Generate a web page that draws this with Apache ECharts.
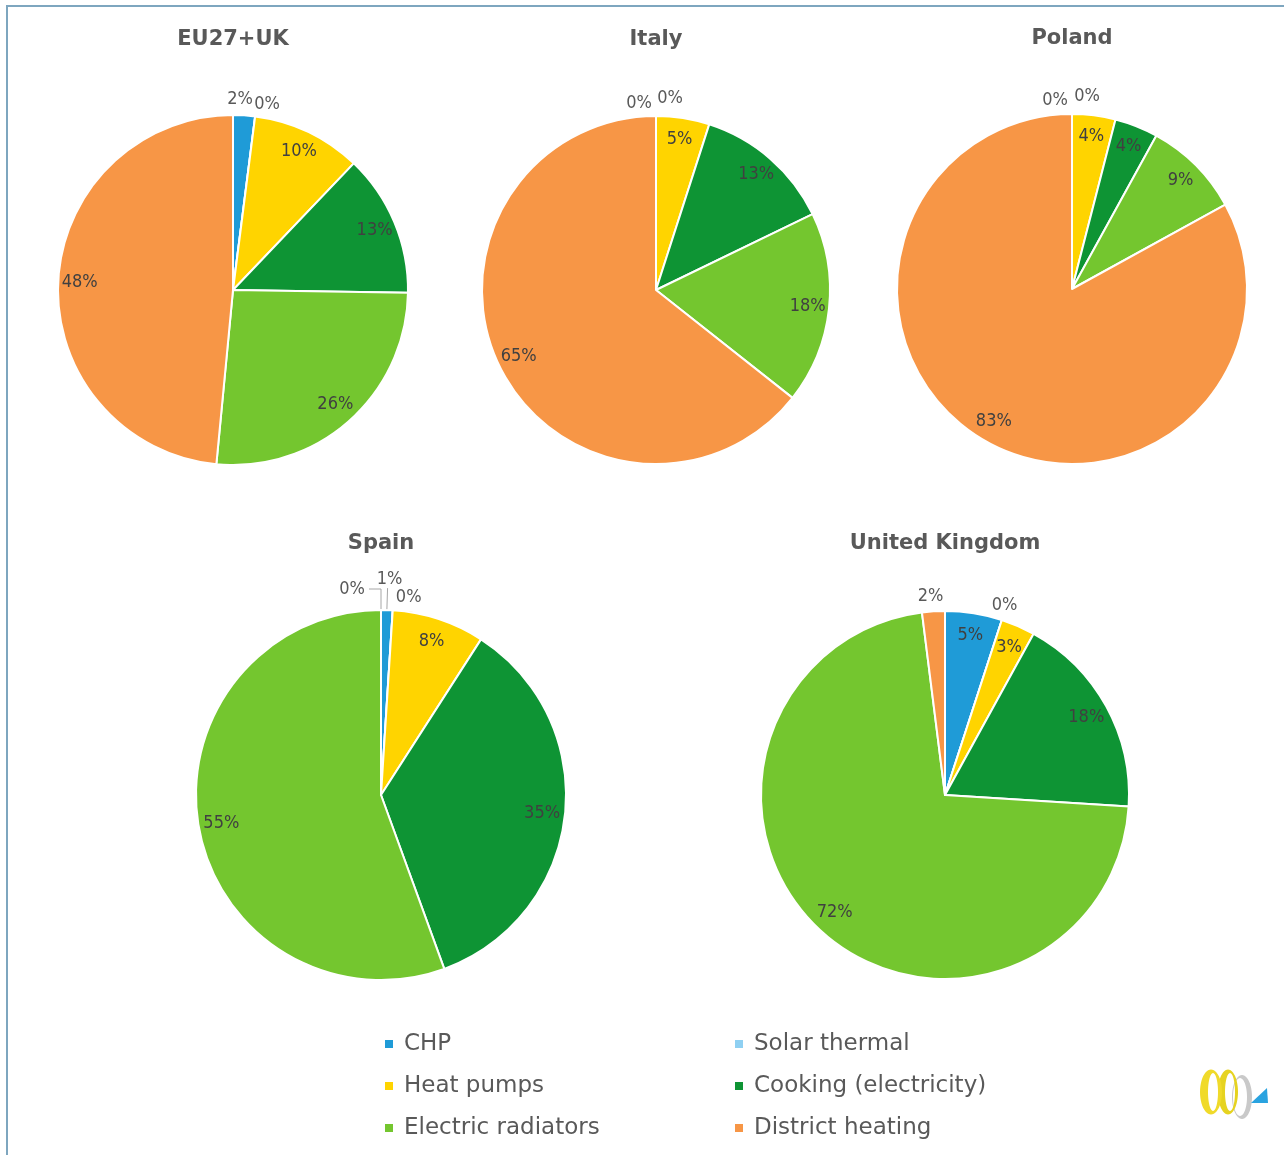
<!DOCTYPE html>
<html>
<head>
<meta charset="utf-8">
<script src="https://cdn.jsdelivr.net/npm/echarts@6/dist/echarts.min.js"></script>
<style>
  html, body { margin: 0; padding: 0; background: #ffffff; }
  #chart { width: 1284px; height: 1155px; }
</style>
</head>
<body>
<div id="chart"></div>
<script>
// Electricity end-use shares (%) per region, clockwise from 12 o'clock
const categories = ['CHP', 'Solar thermal', 'Heat pumps', 'Cooking (electricity)', 'Electric radiators', 'District heating'];
const regions = ['EU27+UK', 'Italy', 'Poland', 'Spain', 'United Kingdom'];
const euUk = [2, 0, 10, 13, 26, 48];
const italy = [0, 0, 5, 13, 18, 65];
const poland = [0, 0, 4, 4, 9, 83];
const spain = [1, 0, 8, 35, 55, 0];
const unitedKingdom = [5, 0, 3, 18, 72, 2];
const regionValues = [euUk, italy, poland, spain, unitedKingdom];

const palette = ['#1f9bd7', '#8fd0f2', '#ffd400', '#0e9434', '#74c62f', '#f79646'];

// Pie placement (px)
const pieLayout = [
  { center: [233, 290], r: 175, titleY: 29 },
  { center: [656, 290], r: 174, titleY: 29 },
  { center: [1072, 289], r: 175, titleY: 28 },
  { center: [381, 795], r: 185, titleY: 533 },
  { center: [945, 795], r: 184, titleY: 533 }
];

// Small slices get their label just outside the rim; nudges keep neighbours apart
const outerNudge = [
  { 0: [-5, -1], 1: [10, 3] },
  { 0: [-17, 2], 1: [14, -3] },
  { 0: [-17, 1], 1: [15, -3] },
  { 1: [15, 2] },
  { 5: [-2, 0], 1: [-2, 0] }
];
// Labels attached with a leader line (Spain)
const leaders = [
  {}, {}, {},
  { 0: { len: 22, len2: 0, gap: 2, above: true }, 5: { len: 21, len2: 12, gap: 4 } },
  {}
];

const FONT = '"DejaVu Sans Condensed", "DejaVu Sans", sans-serif';
const TEXT_GREY = '#595959';

function mainSeries(k) {
  const lay = pieLayout[k];
  const lead = leaders[k];
  return {
    type: 'pie',
    name: regions[k],
    center: lay.center,
    radius: lay.r,
    startAngle: 90,
    clockwise: true,
    avoidLabelOverlap: false,
    animation: false,
    itemStyle: { borderColor: '#ffffff', borderWidth: 2 },
    label: { show: false },
    labelLine: { show: false },
    emphasis: { disabled: true },
    data: regionValues[k].map((v, i) => {
      const item = { name: categories[i], value: v, itemStyle: { color: palette[i] } };
      const l = lead[i];
      if (l) {
        item.label = {
          show: true, position: 'outside', formatter: '{c}%',
          distanceToLabelLine: l.gap, fontFamily: FONT, fontSize: 18, color: TEXT_GREY
        };
        item.labelLine = {
          show: true, length: l.len, length2: l.len2, minTurnAngle: 0,
          lineStyle: { color: '#a6a6a6', width: 1 }
        };
      }
      return item;
    }),
    labelLayout: p => {
      const l = lead[p.dataIndex];
      return l && l.above ? { align: 'center', verticalAlign: 'bottom' } : {};
    }
  };
}

function labelRing(k, inner) {
  const lay = pieLayout[k];
  const r = lay.r;
  const nudge = outerNudge[k];
  return {
    type: 'pie',
    name: regions[k] + (inner ? ' labels' : ' rim labels'),
    center: lay.center,
    radius: inner ? [r * 0.72, r] : [r, r + 24],
    startAngle: 90,
    clockwise: true,
    silent: true,
    legendHoverLink: false,
    avoidLabelOverlap: false,
    animation: false,
    z: 3,
    itemStyle: { color: 'rgba(0,0,0,0)', borderWidth: 0 },
    label: {
      position: 'inside', rotate: 0, formatter: '{c}%',
      fontFamily: FONT, fontSize: 18, color: inner ? '#404040' : TEXT_GREY
    },
    labelLine: { show: false },
    emphasis: { disabled: true },
    data: regionValues[k].map((v, i) => ({
      name: categories[i],
      value: v,
      label: { show: inner ? v >= 3 : (v < 3 && !leaders[k][i]) }
    })),
    labelLayout: inner ? null : p => {
      const o = nudge[p.dataIndex];
      return o ? { dx: o[0], dy: o[1] } : {};
    }
  };
}

const series = [];
regions.forEach((_, k) => series.push(mainSeries(k)));
regions.forEach((_, k) => series.push(labelRing(k, true)));
regions.forEach((_, k) => series.push(labelRing(k, false)));

const legendBase = {
  orient: 'vertical',
  top: 1031,
  padding: 0,
  icon: 'rect',
  itemWidth: 8,
  itemHeight: 8,
  itemGap: 16,
  selectedMode: false,
  itemStyle: { borderWidth: 0 },
  textStyle: { fontFamily: '"DejaVu Sans", sans-serif', fontSize: 23, color: TEXT_GREY, lineHeight: 26, padding: [0, 0, 0, 6] }
};
const legendItem = name => ({ name, itemStyle: { color: palette[categories.indexOf(name)], borderWidth: 0 } });

const titles = regions.map((name, k) => ({
  type: 'text',
  x: pieLayout[k].center[0],
  y: pieLayout[k].titleY,
  style: {
    text: name, align: 'center', verticalAlign: 'top',
    font: 'bold 21px "DejaVu Sans", sans-serif', fill: TEXT_GREY
  }
}));

// Frame along the top and left edges
const frame = [
  { type: 'rect', shape: { x: 6, y: 5, width: 1278, height: 2 }, style: { fill: '#7ea6bf' } },
  { type: 'rect', shape: { x: 6, y: 5, width: 2, height: 1150 }, style: { fill: '#7ea6bf' } }
];

// Loop outline: outer ellipse, then an inner (offset) ellipse traced backwards to cut the hole
function loopPoints(cx, cy, rx, ry, shift, inRx, inRy) {
  const pts = [];
  const n = 48;
  for (let i = 0; i <= n; i++) {
    const a = (i / n) * Math.PI * 2;
    pts.push([cx + rx * Math.cos(a), cy + ry * Math.sin(a)]);
  }
  for (let i = n; i >= 0; i--) {
    const a = (i / n) * Math.PI * 2;
    pts.push([cx + shift + inRx * Math.cos(a), cy + inRy * Math.sin(a)]);
  }
  return pts;
}

// Small emblem in the lower right corner
const emblem = {
  type: 'group',
  children: [
    { type: 'polygon', shape: { points: loopPoints(1242, 1097, 10, 22, -2, 7, 19) }, style: { fill: '#c9c9c9' } },
    { type: 'polygon', shape: { points: loopPoints(1228, 1092, 10, 22.5, 2, 5, 19) }, style: { fill: '#e6d320' } },
    { type: 'polygon', shape: { points: loopPoints(1211, 1092, 11, 22.5, 2, 5, 19) }, style: { fill: '#f0da2a' } },
    { type: 'polygon', shape: { points: [[1251, 1103], [1267, 1088], [1268, 1103]] }, style: { fill: '#2aa3e0' } }
  ]
};

const chart = echarts.init(document.getElementById('chart'), null, { renderer: 'canvas' });
chart.setOption({
  backgroundColor: '#ffffff',
  animation: false,
  legend: [
    Object.assign({}, legendBase, { left: 385, data: ['CHP', 'Heat pumps', 'Electric radiators'].map(legendItem) }),
    Object.assign({}, legendBase, { left: 735, data: ['Solar thermal', 'Cooking (electricity)', 'District heating'].map(legendItem) })
  ],
  graphic: frame.concat(titles, [emblem]),
  series
});
</script>
</body>
</html>
